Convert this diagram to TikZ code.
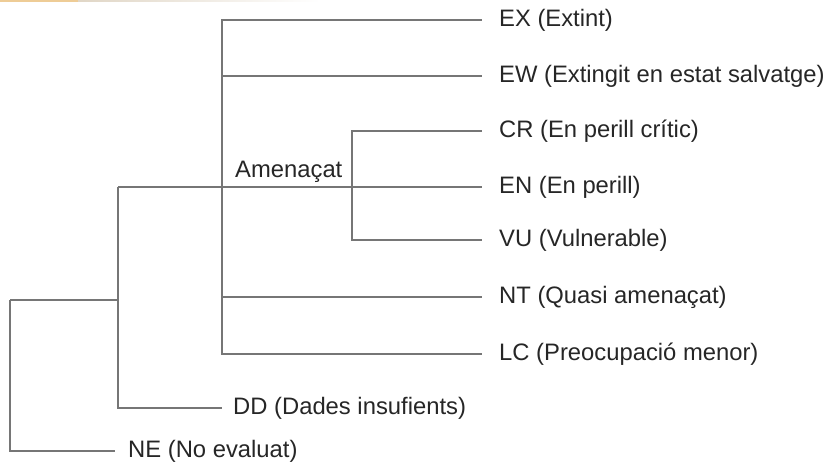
\documentclass[tikz,border=0pt]{standalone}
\usepackage{fontspec}
\setmainfont{Liberation Sans}
\definecolor{ln}{RGB}{118,118,118}
\definecolor{txt}{RGB}{38,38,38}
\definecolor{strip}{RGB}{238,204,150}
\begin{document}
\begin{tikzpicture}[x=1pt,y=-1pt,
  lbl/.style={anchor=west, inner sep=0pt, text=txt, font=\fontsize{23.8}{28}\selectfont},
  branch/.style={draw=ln, line width=2.2pt},
  leaf/.style={branch, shorten >=17pt}]
\useasboundingbox (0,0) rectangle (827,467);
% top-left strip
\fill[strip] (0,0) rectangle (78,1.6);
\shade[left color=strip!60!gray!50, right color=white] (78,0) rectangle (320,1.6);
% labels
\node[lbl] (EX) at (499,20) {EX (Extint)};
\node[lbl] (EW) at (499,76) {EW (Extingit en estat salvatge)};
\node[lbl] (CR) at (499,131) {CR (En perill crític)};
\node[lbl] (EN) at (499,187) {EN (En perill)};
\node[lbl] (VU) at (499,240) {VU (Vulnerable)};
\node[lbl] (NT) at (499,297) {NT (Quasi amenaçat)};
\node[lbl] (LC) at (499,354) {LC (Preocupació menor)};
\node[lbl] (DD) at (233,408) {DD (Dades insufients)};
\node[lbl] (NE) at (128,451) {NE (No evaluat)};
\node[lbl, anchor=base west] (AM) at (235,177) {Amenaçat};
% junctions
\coordinate (r) at (10,300);
\coordinate (a) at (118,300);
\coordinate (b) at (118,187);
\coordinate (c) at (222,187);
\coordinate (d) at (352,187);
% connectors
\draw[branch, shorten >=13pt] (r) |- (NE.west);
\draw[branch] (r) -- (a);
\draw[branch, shorten >=11pt] (b) |- (DD.west);
\draw[leaf] (b) -- (EN.west);
\draw[leaf] (c) |- (EX.west);
\draw[leaf] (c) |- (EW.west);
\draw[leaf] (c) |- (NT.west);
\draw[leaf] (c) |- (LC.west);
\draw[leaf] (d) |- (CR.west);
\draw[leaf] (d) |- (VU.west);
\end{tikzpicture}
\end{document}
